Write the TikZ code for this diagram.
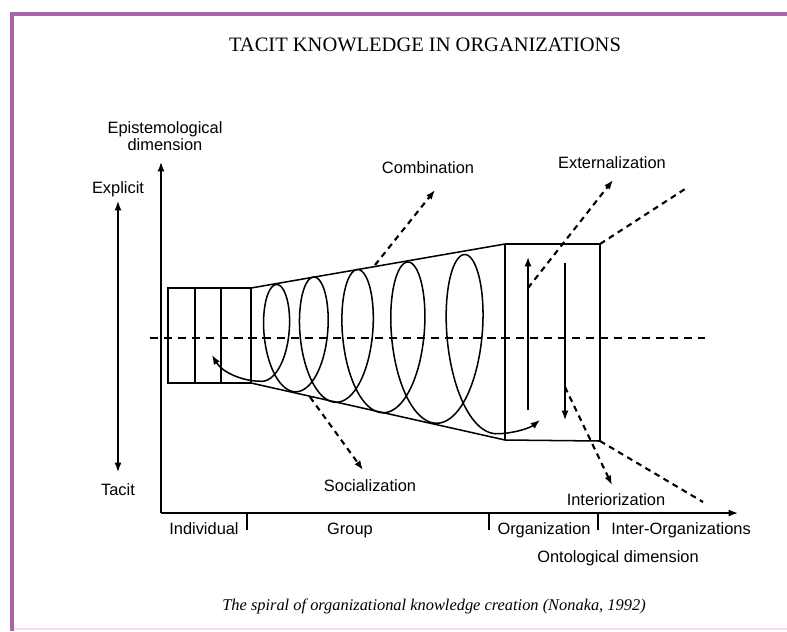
\documentclass[tikz,border=0pt]{standalone}
\usepackage{fontspec}
\setmainfont{Liberation Serif}
\setsansfont{Liberation Sans}
\usepackage{xcolor}
\usetikzlibrary{arrows.meta,positioning}

\definecolor{frameviolet}{RGB}{170,100,170}
\definecolor{framepink}{RGB}{250,215,250}

\begin{document}
\begin{tikzpicture}[x=0.03cm, y=-0.03cm, auto,
    font=\sffamily\fontsize{14}{15}\selectfont,
    declare function={
        spx(\t)=246.25+27.5*\t/(2*pi)+3.25*(\t/(2*pi))^2-(18+2.8*\t/(2*pi))*sin(\t r);
        spy(\t)=334+1.5*\t/(2*pi)-(42+9*\t/(2*pi))*cos(\t r);
    }]

    \tikzstyle{txt} = [
        inner sep=1pt,
        align=center
    ]
    \tikzstyle{contour} = [
        draw,
        line width=1.3pt
    ]
    \tikzstyle{axis} = [
        draw,
        line width=1.3pt,
        -{Latex[length=8pt,width=6pt]}
    ]
    \tikzstyle{flow} = [
        draw,
        line width=1.8pt,
        dash pattern=on 5pt off 4pt
    ]
    \tikzstyle{tick} = [
        draw,
        line width=2.5pt
    ]

    % page and frame
    \useasboundingbox (0,0) rectangle (787,631);
    \fill[white] (0,0) rectangle (787,631);
    \draw[line width=2.5pt, framepink] (12,629) -- (787,629);
    \draw[line width=4pt, frameviolet] (12,631) -- (12,14) -- (787,14);

    \node [font=\rmfamily\fontsize{17.5}{19}\selectfont] (title) at (425,45) {TACIT KNOWLEDGE IN ORGANIZATIONS};

    % axes
    \coordinate (origin) at (161,513);
    \coordinate (ytop) at (161,162);
    \coordinate (xend) at (738,513);
    \path [axis] (origin) -- (ytop);
    \path [axis] (origin) -- (xend);

    \node [txt] (epi) at (165,136) {Epistemological\\dimension};
    \node [txt] (explicit) at (118,189) {Explicit};
    \node [txt] (tacit) at (118,490) {Tacit};
    \path [axis, {Latex[length=8pt,width=6pt]}-{Latex[length=8pt,width=6pt]}] (118,472) -- (118,201);

    \draw [tick] (247,513) -- (247,530);
    \draw [tick] (489,513) -- (489,530);
    \draw [tick] (598,513) -- (598,530);

    \node [txt] (individual) at (204,529) {Individual};
    \node [txt] (group) at (350,530) {Group};
    \node [txt] (organization) at (544,530) {Organization};
    \node [txt] (interorg) at (681,530) {Inter-Organizations};
    \node [txt] (onto) at (618,558) {Ontological dimension};

    % individual, group and organization bodies
    \draw [contour] (168,288) rectangle (251,383);
    \draw [contour] (195,288) -- (195,383);
    \draw [contour] (221,288) -- (221,383);
    \draw [contour] (251,288) -- (505,244) -- (600,244) -- (600,441) -- (505,440) -- (251,383);
    \draw [contour] (505,244) -- (505,440);
    \path [axis] (528,410) -- (528,257);
    \path [axis] (565,263) -- (565,420);

    \draw [line width=1.5pt, dash pattern=on 7pt off 5pt] (150,338) -- (705,338);

    % spiral
    \draw [contour, {Latex[length=8pt,width=6pt]}-{Latex[length=8pt,width=6pt]}] (212,355) .. controls (222,372) and (242,381.25) .. (260.8,381.25)
        -- plot[domain=pi:11*pi, samples=500, variable=\t] ({spx(\t)},{spy(\t)})
        .. controls (512,434) and (530,428) .. (540,420);

    % modes
    \node [txt] (combination) at (428,168) {Combination};
    \node [txt] (externalization) at (612,163) {Externalization};
    \node [txt] (socialization) at (370,486) {Socialization};
    \node [txt] (interiorization) at (616,500) {Interiorization};

    \coordinate (cmbfoot) at (375,265);
    \coordinate (cmbtip) at (435,190);
    \coordinate (socfoot) at (310,397);
    \coordinate (soctip) at (363,470);
    \coordinate (extfoot) at (528,288);
    \coordinate (exttip) at (613,180);
    \coordinate (extcorner) at (600,244);
    \coordinate (extend) at (685,189);
    \coordinate (intfoot) at (565,387);
    \coordinate (inttip) at (612,485);
    \coordinate (intcorner) at (600,441);
    \coordinate (intend) at (703,502);

    \path [flow, -{Latex[length=8pt,width=6pt]}] (cmbfoot) -- (cmbtip);
    \path [flow, -{Latex[length=8pt,width=6pt]}] (socfoot) -- (soctip);
    \path [flow, -{Latex[length=8pt,width=6pt]}] (extfoot) -- (exttip);
    \path [flow] (extcorner) -- (extend);
    \path [flow, -{Latex[length=8pt,width=6pt]}] (intfoot) -- (inttip);
    \path [flow] (intcorner) -- (intend);

    \node [font=\rmfamily\itshape\fontsize{14}{16}\selectfont] (caption) at (434,606) {The spiral of organizational knowledge creation (Nonaka, 1992)};

\end{tikzpicture}
\end{document}
